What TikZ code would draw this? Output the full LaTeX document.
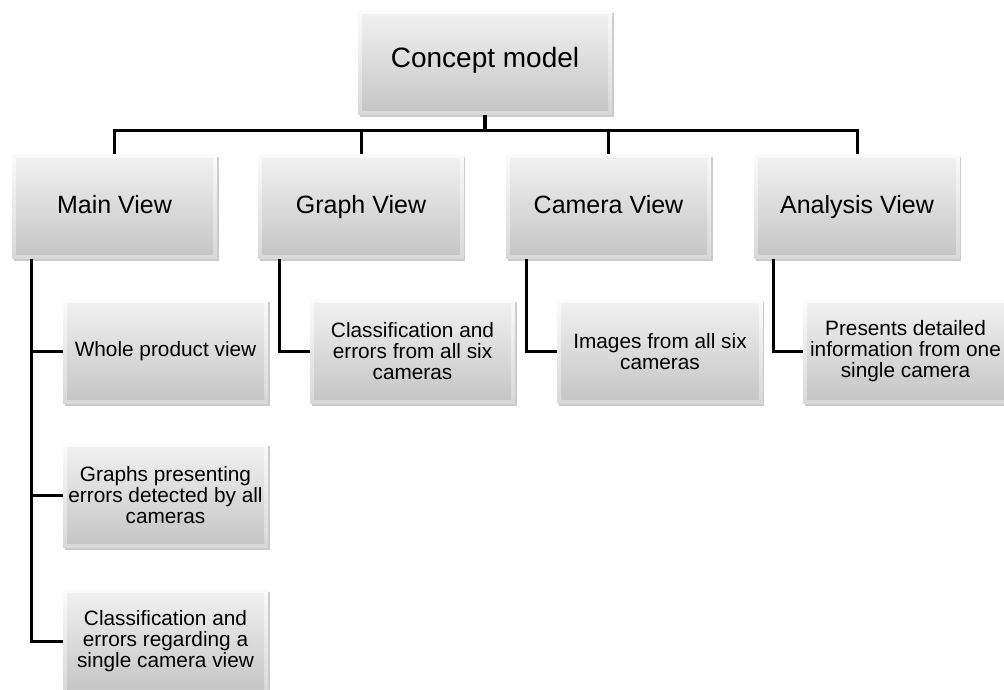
\documentclass[tikz,border=0pt]{standalone}
\usepackage{fontspec}
\setmainfont{Liberation Sans}
\usetikzlibrary{shadows}
\definecolor{edgetop}{HTML}{FBFBFB}
\definecolor{edgebot}{HTML}{D8D8D8}
\definecolor{facetop}{HTML}{F2F2F2}
\definecolor{facebot}{HTML}{C4C4C4}
\tikzset{
  bevelbox/.style={
    rectangle, inner sep=0pt, align=center, text=black,
    minimum width=205pt, minimum height=104pt,
    top color=edgetop, bottom color=edgebot,
    drop shadow={shadow xshift=1.5pt, shadow yshift=-2.5pt, opacity=0.35, fill=black!60},
    path picture={
      \shade[top color=facetop, bottom color=facebot]
        ([shift={(4pt,-4pt)}]path picture bounding box.north west) rectangle
        ([shift={(-4pt,4pt)}]path picture bounding box.south east);
    }
  },
  rootbox/.style={bevelbox, minimum width=254pt, font=\fontsize{28}{32}\selectfont,
    text height=20pt, text depth=10pt},
  viewbox/.style={bevelbox, font=\fontsize{25}{29}\selectfont,
    text height=18.5pt, text depth=5.5pt},
  itembox/.style={bevelbox, font=\fontsize{20.8}{21}\selectfont},
  link/.style={line width=3pt, draw=black},
}
\begin{document}
\begin{tikzpicture}[x=1pt, y=-1pt]
\useasboundingbox (0,0) rectangle (1004,690);

% root
\node[rootbox] (concept) at (485,63) {Concept model};

% views
\node[viewbox] (main)     at (114.5,206.5) {Main View};
\node[viewbox] (graph)    at (361,206.5)   {Graph View};
\node[viewbox] (camera)   at (608.5,206.5) {Camera View};
\node[viewbox] (analysis) at (857,206.5)   {Analysis View};

% items
\node[itembox] (whole)   at (165.5,351.5) {Whole product view};
\node[itembox] (graphs)  at (165.5,495.5) {Graphs presenting\\errors detected by all\\cameras};
\node[itembox] (single)  at (165.5,641.5) {Classification and\\errors regarding a\\single camera view};
\node[itembox] (gclass)  at (412.5,351.5) {Classification and\\errors from all six\\cameras};
\node[itembox] (images)  at (660,351.5)   {Images from all six\\cameras};
\node[itembox] (detail)  at (905.5,351.5) {Presents detailed\\information from one\\single camera};

% root to views
\coordinate (bar) at (485,131);
\draw[line width=4pt] (concept.south) -- (bar);
\draw[link] (bar) -| (main.north);
\draw[link] (bar) -| (graph.north);
\draw[link] (bar) -| (camera.north);
\draw[link] (bar) -| (analysis.north);

% views to items
\draw[link] ([xshift=20pt]main.south west) |- (whole.west);
\draw[link] ([xshift=20pt]main.south west) |- (graphs.west);
\draw[link] ([xshift=20pt]main.south west) |- (single.west);
\draw[link] ([xshift=21pt]graph.south west) |- (gclass.west);
\draw[link] ([xshift=21pt]camera.south west) |- (images.west);
\draw[link] ([xshift=19pt]analysis.south west) |- (detail.west);
\end{tikzpicture}
\end{document}
